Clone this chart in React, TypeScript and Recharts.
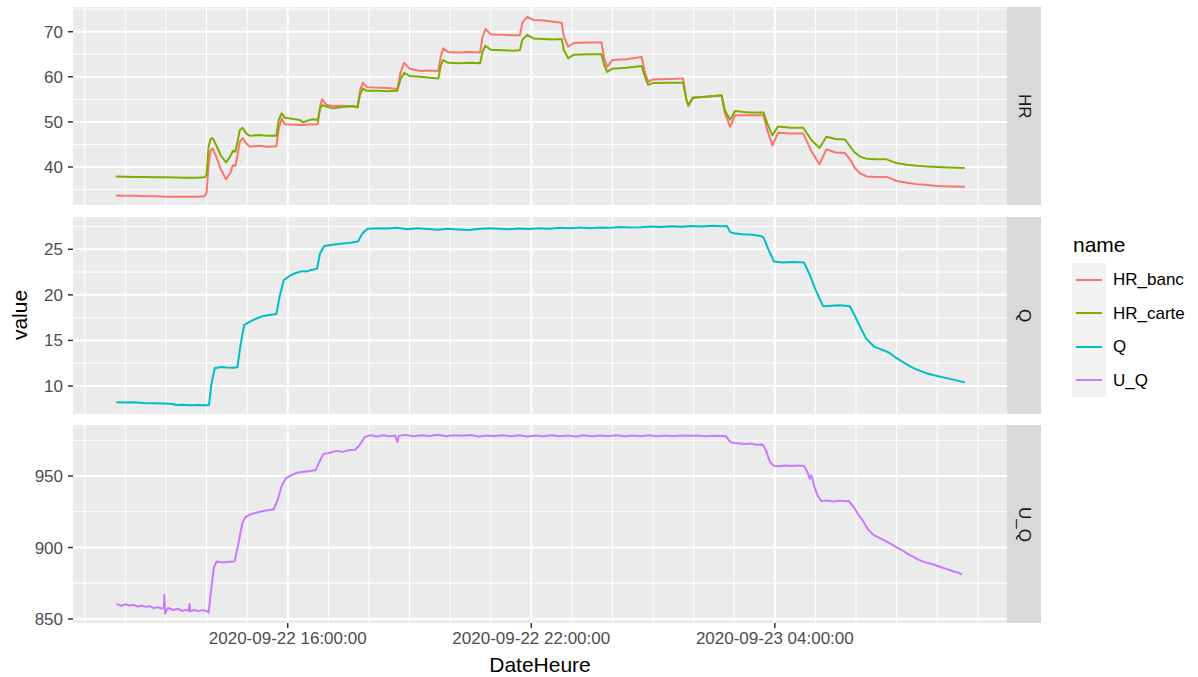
import React from "react";
import {
  LineChart,
  Line,
  XAxis,
  YAxis,
  CartesianGrid,
} from "recharts";

// time axis: hours counted from 2020-09-22 00:00
const xDomain = [10.71, 33.72];
const xTicks = [16, 22, 28];
const xTickLabels = ["2020-09-22 16:00:00", "2020-09-22 22:00:00", "2020-09-23 04:00:00"];
const xMinor = [11, 12, 13, 14, 15, 16, 17, 18, 19, 20, 21, 22, 23, 24, 25, 26, 27, 28, 29, 30, 31, 32, 33];

const hrTimes = [
  11.77, 12.0, 12.25, 12.5, 12.75, 13.0, 13.25, 13.5, 13.75, 13.95, 14.0, 14.05, 14.1, 14.15, 14.25,
  14.35, 14.48, 14.58, 14.65, 14.71, 14.76, 14.82, 14.89, 14.98, 15.07, 15.3, 15.5, 15.72, 15.78,
  15.85, 15.93, 16.1, 16.3, 16.38, 16.5, 16.62, 16.74, 16.8, 16.85, 16.95, 17.12, 17.35, 17.62,
  17.72, 17.78, 17.85, 17.95, 18.2, 18.45, 18.7, 18.78, 18.87, 19.0, 19.27, 19.5, 19.71, 19.77,
  19.83, 19.95, 20.2, 20.5, 20.74, 20.8, 20.87, 21.0, 21.3, 21.55, 21.72, 21.78, 21.9, 22.05, 22.3,
  22.55, 22.75, 22.8, 22.91, 23.05, 23.4, 23.73, 23.8, 23.87, 24.0, 24.35, 24.72, 24.8, 24.88, 25.0,
  25.4, 25.74, 25.82, 25.87, 25.98, 26.3, 26.69, 26.77, 26.9, 27.02, 27.35, 27.72, 27.82, 27.94,
  28.08, 28.4, 28.7, 28.9, 29.1, 29.27, 29.5, 29.73, 29.85, 29.97, 30.1, 30.26, 30.5, 30.75, 30.9,
  31.0, 31.25, 31.5, 31.75, 32.0, 32.3, 32.68,
];
const hrBanc = [
  33.7, 33.6, 33.6, 33.5, 33.5, 33.4, 33.4, 33.4, 33.4, 33.5, 34.2, 40.5, 43.6, 44.1, 42.0,
  39.5, 37.3, 38.6, 40.4, 40.2, 42.5, 45.6, 46.4, 45.2, 44.5, 44.7, 44.5, 44.6, 48.5,
  50.8, 49.5, 49.4, 49.3, 49.3, 49.4, 49.4, 49.5, 53.5, 55.0, 53.8, 53.5, 53.6, 53.4,
  53.3, 57.0, 58.7, 57.7, 57.6, 57.5, 57.3, 61.0, 63.1, 61.8, 61.3, 61.4, 61.3, 64.5,
  66.3, 65.5, 65.4, 65.5, 65.4, 68.8, 70.6, 69.4, 69.3, 69.2, 69.2, 72.0, 73.3, 72.6, 72.5,
  72.2, 72.0, 69.0, 66.7, 67.5, 67.6, 67.6, 64.0, 62.2, 63.7, 63.9, 64.4, 61.0, 58.9, 59.4,
  59.5, 59.6, 55.0, 53.5, 55.3, 55.6, 55.8, 52.0, 48.9, 51.5, 51.5, 51.5, 48.0, 44.8,
  47.6, 47.4, 47.4, 43.5, 40.6, 43.9, 43.2, 43.1, 41.7, 39.8, 38.6, 37.9, 37.8, 37.8, 37.3,
  36.9, 36.5, 36.2, 36.0, 35.8, 35.7, 35.6,
];
const hrCarte = [
  37.9, 37.85, 37.8, 37.8, 37.7, 37.7, 37.65, 37.6, 37.6, 37.7, 38.2, 44.5, 46.2, 46.4, 44.6,
  42.6, 41.0, 42.3, 43.6, 43.4, 45.5, 48.2, 48.7, 47.4, 46.9, 47.1, 46.9, 46.95, 50.5,
  51.9, 50.9, 50.7, 50.4, 49.9, 50.3, 50.6, 50.4, 53.0, 53.7, 53.4, 53.0, 53.3, 53.5,
  53.2, 56.0, 57.4, 56.9, 56.9, 56.8, 56.9, 59.5, 60.9, 60.2, 60.0, 59.8, 59.6, 62.5,
  63.7, 63.1, 63.0, 63.1, 63.0, 65.6, 66.9, 66.0, 65.9, 65.8, 65.9, 68.2, 69.3, 68.5, 68.4,
  68.3, 68.4, 66.0, 64.1, 64.9, 65.0, 65.0, 62.5, 61.1, 61.8, 62.0, 62.4, 60.0, 58.2, 58.6,
  58.7, 58.7, 55.0, 53.7, 55.4, 55.6, 55.9, 52.5, 50.5, 52.4, 52.1, 52.1, 49.5, 47.0,
  49.0, 48.7, 48.7, 46.0, 44.2, 46.7, 46.2, 46.1, 44.6, 43.2, 42.3, 41.8, 41.7, 41.7, 41.2,
  40.9, 40.5, 40.25, 40.1, 40.0, 39.9, 39.8,
];

const qTimes = [
  11.78, 12.0, 12.2, 12.45, 12.7, 12.95, 13.17, 13.25, 13.4, 13.6, 13.8, 14.06, 14.12, 14.2, 14.35,
  14.5, 14.65, 14.76, 14.84, 14.93, 15.05, 15.2, 15.38, 15.55, 15.72, 15.8, 15.9, 16.05, 16.2,
  16.35, 16.45, 16.6, 16.72, 16.8, 16.9, 17.1, 17.3, 17.5, 17.73, 17.85, 17.97, 18.2, 18.45, 18.7,
  18.95, 19.2, 19.45, 19.7, 19.95, 20.2, 20.45, 20.7, 20.95, 21.2, 21.45, 21.7, 21.95, 22.2, 22.45,
  22.7, 22.95, 23.2, 23.45, 23.7, 23.95, 24.2, 24.45, 24.7, 24.95, 25.2, 25.45, 25.7, 25.95, 26.2,
  26.45, 26.7, 26.82, 26.9, 26.98, 27.2, 27.45, 27.65, 27.72, 27.85, 27.98, 28.2, 28.45, 28.72,
  28.85, 29.0, 29.19, 29.4, 29.6, 29.85, 29.95, 30.1, 30.25, 30.45, 30.6, 30.8, 31.0, 31.15, 31.33,
  31.5, 31.74, 31.95, 32.15, 32.4, 32.68,
];
const qValues = [
  8.22, 8.2, 8.23, 8.15, 8.12, 8.08, 8.03, 7.92, 7.94, 7.9, 7.93, 7.9, 10.2, 11.95, 12.08,
  12.02, 12.0, 12.05, 14.6, 16.7, 17.0, 17.35, 17.65, 17.8, 17.9, 19.8, 21.6, 22.1, 22.4,
  22.6, 22.55, 22.75, 22.85, 24.6, 25.35, 25.5, 25.6, 25.7, 25.85, 26.8, 27.25, 27.3, 27.28, 27.35,
  27.2, 27.3, 27.22, 27.15, 27.25, 27.18, 27.12, 27.22, 27.3, 27.24, 27.2, 27.28, 27.22, 27.3, 27.26,
  27.35, 27.3, 27.38, 27.3, 27.4, 27.36, 27.45, 27.38, 27.42, 27.5, 27.45, 27.52, 27.48, 27.55, 27.5,
  27.58, 27.52, 27.55, 26.9, 26.75, 26.65, 26.6, 26.45, 26.3, 24.9, 23.65, 23.55, 23.6, 23.55,
  22.3, 20.6, 18.75, 18.8, 18.85, 18.75, 17.9, 16.5, 15.2, 14.3, 14.05, 13.7, 13.05, 12.65, 12.15,
  11.8, 11.4, 11.15, 10.95, 10.7, 10.4,
];

const uqTimes = [
  11.78, 11.9, 12.0, 12.1, 12.2, 12.3, 12.4, 12.5, 12.6, 12.7, 12.8, 12.9, 12.95, 12.96, 12.98,
  13.05, 13.17, 13.3, 13.4, 13.5, 13.56, 13.58, 13.6, 13.7, 13.8, 13.9, 14.0, 14.05, 14.12, 14.18,
  14.25, 14.4, 14.55, 14.69, 14.78, 14.88, 14.95, 15.1, 15.25, 15.4, 15.55, 15.65, 15.75, 15.85,
  15.95, 16.1, 16.25, 16.4, 16.55, 16.69, 16.78, 16.88, 17.05, 17.2, 17.35, 17.5, 17.66, 17.78,
  17.9, 18.05, 18.2, 18.35, 18.5, 18.65, 18.7, 18.74, 18.9, 19.1, 19.3, 19.5, 19.7, 19.9, 20.1,
  20.3, 20.5, 20.7, 20.9, 21.1, 21.3, 21.5, 21.7, 21.9, 22.1, 22.3, 22.5, 22.7, 22.9, 23.1, 23.3,
  23.5, 23.7, 23.9, 24.1, 24.3, 24.5, 24.7, 24.9, 25.1, 25.3, 25.5, 25.7, 25.9, 26.1, 26.3, 26.5,
  26.7, 26.8, 26.88, 26.95, 27.1, 27.25, 27.4, 27.55, 27.7, 27.78, 27.88, 27.97, 28.1, 28.25, 28.4,
  28.55, 28.72, 28.8, 28.86, 28.9, 28.98, 29.06, 29.14, 29.3, 29.45, 29.6, 29.75, 29.82, 29.95,
  30.07, 30.17, 30.3, 30.44, 30.6, 30.75, 30.86, 31.0, 31.15, 31.27, 31.4, 31.55, 31.69, 31.85,
  32.0, 32.1, 32.25, 32.4, 32.5, 32.61,
];
const uqValues = [
  860.7, 859.2, 860.3, 859.5, 859.9, 858.6, 859.4, 858.5, 858.9, 857.6, 858.3, 857.2, 858.0, 867.0, 853.7,
  857.8, 856.3, 857.1, 855.6, 856.4, 855.8, 860.5, 855.4, 856.3, 855.5, 856.2, 855.6, 854.3, 872.0, 886.0,
  890.2, 889.6, 890.1, 890.3, 902.0, 917.0, 921.0, 923.4, 924.5, 925.6, 926.2, 926.6, 933.0, 943.0,
  948.3, 950.8, 952.5, 953.0, 953.6, 954.2, 960.0, 965.5, 966.3, 967.6, 966.9, 968.0, 968.4, 972.0,
  977.4, 978.6, 977.7, 978.5, 977.9, 978.4, 973.8, 978.1, 978.8, 977.9, 978.6, 978.0, 978.9, 977.8, 978.5,
  978.1, 978.7, 977.6, 978.4, 978.0, 978.6, 977.9, 978.5, 977.7, 978.3, 977.9, 978.6, 977.8, 978.3, 977.7, 978.5,
  977.9, 978.4, 978.0, 978.6, 977.9, 978.3, 978.0, 978.5, 977.9, 978.3, 978.0, 978.4, 978.1, 978.3, 977.9, 978.2,
  978.0, 977.9, 974.5, 973.2, 973.0, 972.4, 972.8, 971.9, 972.0, 968.0, 960.0, 957.2, 956.8, 957.4, 957.0,
  957.3, 957.0, 953.0, 948.0, 950.5, 942.0, 936.0, 932.5, 932.9, 932.2, 932.8, 932.3, 932.6, 928.0,
  922.5, 918.8, 912.5, 908.6, 906.4, 904.2, 902.6, 900.1, 897.9, 895.6, 893.6, 891.4, 889.8, 888.6,
  887.2, 886.2, 884.9, 883.2, 882.6, 881.0,
];

const seriesNames = ["HR_banc", "HR_carte", "Q", "U_Q"];
const seriesColors = ["#F8766D", "#7CAE00", "#00BFC4", "#C77CFF"];

const hrRows = hrTimes.map((t, i) => ({ t, HR_banc: hrBanc[i], HR_carte: hrCarte[i] }));
const qRows = qTimes.map((t, i) => ({ t, Q: qValues[i] }));
const uqRows = uqTimes.map((t, i) => ({ t, U_Q: uqValues[i] }));

const FONT = "'Liberation Sans', Arial, Helvetica, sans-serif";
const PANEL_LEFT = 73;
const PANEL_RIGHT = 1007;
const STRIP_W = 34;
const AXIS_TXT = { fill: "#4D4D4D", fontSize: 17, fontFamily: FONT };

type PanelProps = {
  label: string;
  top: number;
  height: number;
  data: any[];
  keys: string[];
  yDomain: number[];
  yTicks: number[];
  yMinor: number[];
  showX?: boolean;
};

function Panel({ label, top, height, data, keys, yDomain, yTicks, yMinor, showX }: PanelProps) {
  const xAxisH = showX ? 40 : 0;
  return (
    <>
      <div style={{ position: "absolute", left: 0, top }}>
        <LineChart
          width={PANEL_RIGHT}
          height={height + xAxisH}
          data={data}
          margin={{ top: 0, right: 0, bottom: 0, left: 0 }}
        >
          <CartesianGrid
            fill="#EBEBEB"
            stroke="#FFFFFF"
            strokeWidth={1}
            verticalValues={xMinor}
            horizontalValues={yMinor}
          />
          <CartesianGrid
            stroke="#FFFFFF"
            strokeWidth={2}
            verticalValues={xTicks}
            horizontalValues={yTicks}
          />
          <XAxis
            dataKey="t"
            type="number"
            domain={xDomain}
            allowDataOverflow
            ticks={xTicks}
            hide={!showX}
            height={xAxisH}
            tickFormatter={(v: number) => xTickLabels[xTicks.indexOf(v)] ?? ""}
            tick={AXIS_TXT}
            tickSize={5}
            tickMargin={4}
            axisLine={false}
            tickLine={{ stroke: "#333333", strokeWidth: 1.5 }}
          />
          <YAxis
            type="number"
            domain={yDomain}
            allowDataOverflow
            ticks={yTicks}
            width={PANEL_LEFT}
            tick={AXIS_TXT}
            tickSize={5}
            tickMargin={5}
            axisLine={false}
            tickLine={{ stroke: "#333333", strokeWidth: 1.5 }}
          />
          {keys.map((k) => (
            <Line
              key={k}
              type="linear"
              dataKey={k}
              stroke={seriesColors[seriesNames.indexOf(k)]}
              strokeWidth={2}
              strokeLinejoin="round"
              dot={false}
              activeDot={false}
              isAnimationActive={false}
            />
          ))}
        </LineChart>
      </div>
      <div
        style={{
          position: "absolute",
          left: PANEL_RIGHT,
          top,
          width: STRIP_W,
          height,
          background: "#D9D9D9",
          display: "flex",
          alignItems: "center",
          justifyContent: "center",
          writingMode: "vertical-rl",
          fontSize: 17,
          color: "#1A1A1A",
        }}
      >
        {label}
      </div>
    </>
  );
}

export default function App() {
  return (
    <div
      style={{
        position: "absolute",
        left: 0,
        top: 0,
        width: 1198,
        height: 677,
        background: "#FFFFFF",
        fontFamily: FONT,
        overflow: "hidden",
      }}
    >
      <Panel
        label="HR"
        top={7}
        height={198}
        data={hrRows}
        keys={["HR_banc", "HR_carte"]}
        yDomain={[31.57, 75.48]}
        yTicks={[40, 50, 60, 70]}
        yMinor={[35, 45, 55, 65, 75]}
      />
      <Panel
        label="Q"
        top={217}
        height={197}
        data={qRows}
        keys={["Q"]}
        yDomain={[6.93, 28.54]}
        yTicks={[10, 15, 20, 25]}
        yMinor={[7.5, 12.5, 17.5, 22.5, 27.5]}
      />
      <Panel
        label="U_Q"
        top={425}
        height={198}
        data={uqRows}
        keys={["U_Q"]}
        yDomain={[847.2, 985.7]}
        yTicks={[850, 900, 950]}
        yMinor={[875, 925, 975]}
        showX
      />

      {/* axis titles */}
      <div
        style={{
          position: "absolute",
          left: 20 - 40,
          top: 315 - 12,
          width: 80,
          height: 24,
          lineHeight: "24px",
          textAlign: "center",
          fontSize: 21,
          color: "#000000",
          transform: "rotate(-90deg)",
        }}
      >
        value
      </div>
      <div
        style={{
          position: "absolute",
          left: PANEL_LEFT,
          width: PANEL_RIGHT - PANEL_LEFT,
          top: 654,
          lineHeight: "21px",
          textAlign: "center",
          fontSize: 21,
          color: "#000000",
        }}
      >
        DateHeure
      </div>

      {/* legend */}
      <div
        style={{
          position: "absolute",
          left: 1073,
          top: 233,
          lineHeight: "24px",
          fontSize: 21,
          color: "#000000",
        }}
      >
        name
      </div>
      <div
        style={{
          position: "absolute",
          left: 1072,
          top: 263,
          width: 34,
          height: 134,
          background: "#F2F2F2",
        }}
      />
      {seriesNames.map((n, i) => (
        <React.Fragment key={n}>
          <div
            style={{
              position: "absolute",
              left: 1076,
              top: 263 + i * 33.5 + 16.75 - 1,
              width: 26,
              height: 2,
              background: seriesColors[i],
            }}
          />
          <div
            style={{
              position: "absolute",
              left: 1113,
              top: 263 + i * 33.5,
              height: 33.5,
              lineHeight: "33.5px",
              fontSize: 17,
              color: "#000000",
            }}
          >
            {n}
          </div>
        </React.Fragment>
      ))}
    </div>
  );
}
